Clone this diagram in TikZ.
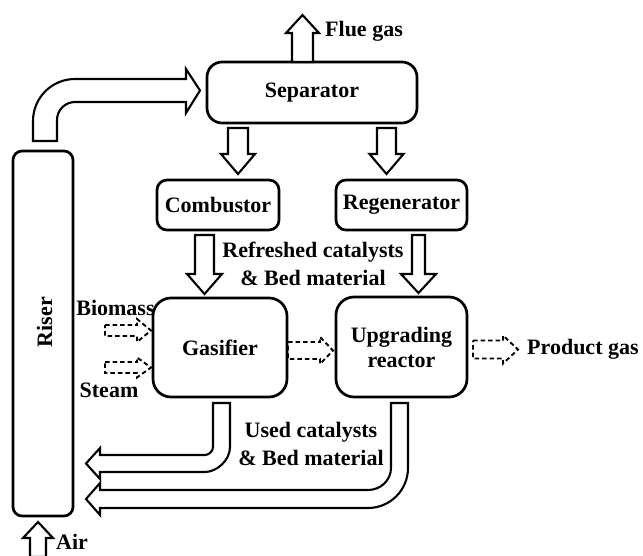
\documentclass[tikz,border=0pt]{standalone}
\usepackage{fontspec}
\setmainfont{Liberation Serif}
\usetikzlibrary{calc}
\tikzset{
  box/.style={draw, line width=2.7pt, rounded corners=12pt, inner sep=0pt, align=center},
  blk/.style={draw, line width=2.1pt, line join=miter, fill=white},
  dblk/.style={draw, line width=1.9pt, dash pattern=on 4.5pt off 3pt, line join=miter},
  lbl/.style={inner sep=0pt, align=center},
}
% vertical block arrow: [opt]{x}{y1}{ybase}{ytip}{half shaft}{half head}
\newcommand{\vblk}[7][]{%
  \draw[blk,#1] ({#2-#6},#3) -- ({#2-#6},#4) -- ({#2-#7},#4) -- (#2,#5) -- ({#2+#7},#4) -- ({#2+#6},#4) -- ({#2+#6},#3) -- cycle;}
% horizontal block arrow: [opt]{y}{x1}{xbase}{xtip}{half shaft}{half head}
\newcommand{\hblk}[7][]{%
  \draw[#1] (#3,{#2-#6}) -- (#4,{#2-#6}) -- (#4,{#2-#7}) -- (#5,#2) -- (#4,{#2+#7}) -- (#4,{#2+#6}) -- (#3,{#2+#6}) -- cycle;}
\begin{document}
\begin{tikzpicture}[x=1pt,y=-1pt,font=\fontsize{22}{28}\selectfont\bfseries]
\useasboundingbox (0,0) rectangle (643,556);

% boxes
\node[box, rounded corners=9pt, minimum width=60pt, minimum height=365pt] (riser) at (43,333.5) {};
\node[rotate=90, lbl] (risertxt) at (44.5,322) {Riser};
\node[box, rounded corners=15pt, minimum width=210pt, minimum height=61pt] (sep) at (312,92.5) {Separator};
\node[box, rounded corners=10pt, minimum width=122pt, minimum height=50pt] (comb) at (218,205) {Combustor};
\node[box, rounded corners=10pt, minimum width=131pt, minimum height=50pt] (regen) at (401.5,205) {Regenerator};
\node[box, rounded corners=18pt, minimum width=134pt, minimum height=99pt] (gas) at (220,347.5) {Gasifier};
\node[box, rounded corners=18pt, minimum width=131pt, minimum height=100pt] (upg) at (401.5,347) {Upgrading\\[-3pt]reactor};

% labels
\node[lbl, anchor=west] (flue) at (325,31) {Flue gas};
\node[lbl] (refr) at (313,264) {Refreshed catalysts\\[0pt]\& Bed material};
\node[lbl] (used) at (311,444) {Used catalysts\\[0pt]\& Bed material};
\node[lbl] (bio) at (115.5,308) {Biomass};
\node[lbl] (steam) at (109,390) {Steam};
\node[lbl, anchor=west] (prod) at (527,349) {Product gas};
\node[lbl, anchor=west] (air) at (56,542) {Air};

% straight block arrows
\vblk{302.5}{62}{33}{15}{10.5}{16.5}
\vblk{238}{128}{154}{174}{10}{17}
\vblk{386.5}{128}{154}{174}{9.5}{17}
\vblk{204.5}{235}{274}{294}{9.5}{17.5}
\vblk{418.5}{235}{274}{293}{6.5}{17.5}
\vblk{38}{557}{538}{522}{8}{15}

% dashed arrows
\hblk[dblk]{330.5}{105}{137}{151}{5.5}{11.5}
\hblk[dblk]{367.5}{105}{137}{151}{5.5}{10}
\hblk[dblk]{350.5}{288}{320}{333}{8.5}{13.5}
\hblk[dblk]{349.5}{473}{503}{518}{9}{14}

% riser -> separator curved arrow
\draw[blk] (33,141) -- (33,121) .. controls (33,97.8) and (51.8,79) .. (75,79) -- (186,79) -- (186,69) -- (200,90.5) -- (186,113) -- (186,102) -- (75,102) .. controls (65.1,102) and (57,110.1) .. (57,120) -- (57,141) -- cycle;

% gasifier -> riser
\draw[blk] (213,403) -- (230,403) -- (230,447) .. controls (230,460.8) and (216.2,472) .. (205,472) -- (100,472) -- (100,479) -- (86,463.5) -- (100,448) -- (100,455) -- (205,455) .. controls (208.6,455) and (213,451.4) .. (213,447) -- cycle;

% upgrading -> riser
\draw[blk] (391,403) -- (408,403) -- (408,468) .. controls (408,490.1) and (390.1,508) .. (368,508) -- (100,508) -- (100,515) -- (86,499) -- (100,483) -- (100,490) -- (368,490) .. controls (380.7,490) and (391,480.2) .. (391,468) -- cycle;
\end{tikzpicture}
\end{document}
